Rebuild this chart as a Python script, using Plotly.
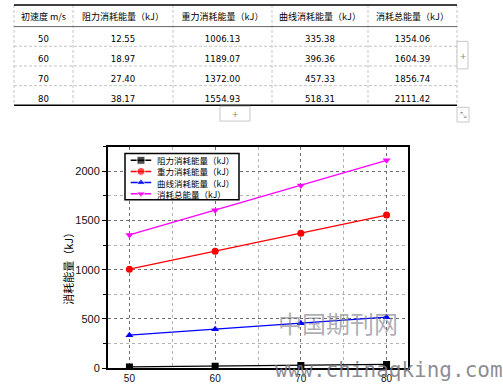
import plotly.graph_objects as go

W, H = 503, 387

# ---------------- data ----------------
speeds = [50, 60, 70, 80]
resist = [12.55, 18.97, 27.40, 38.17]
gravity = [1006.13, 1189.07, 1372.00, 1554.93]
curve = [335.38, 396.36, 457.33, 518.31]
total = [1354.06, 1604.39, 1856.74, 2111.42]

table_headers = ["初速度\u00a0m/s", "阻力消耗能量（kJ）", "重力消耗能量（kJ）", "曲线消耗能量（kJ）", "消耗总能量（kJ）"]
series_names = ["阻力消耗能量（kJ）", "重力消耗能量（kJ）", "曲线消耗能量（kJ）", "消耗总能量（kJ）"]
y_title = "消耗能量（kJ）"
y_ticks = [0, 500, 1000, 1500, 2000]
x_ticks = [50, 60, 70, 80]

# ---------------- styles ----------------
colors = ["#000000", "#ff0000", "#0000ff", "#ff00ff"]
symbols = ["square", "circle", "triangle-up", "triangle-down"]
col_widths = [59, 100, 99, 96, 89]
tbl_left, tbl_top = 14, 5
header_h, row_h = 22, 20


def px(x):
    return x / W


def py(y):
    return 1 - y / H


CJK = "Noto Sans CJK SC"

fig = go.Figure()

# ---------------- table ----------------
tbl_right = tbl_left + sum(col_widths)
tbl_bottom = tbl_top + header_h + row_h * len(speeds)
fig.add_trace(go.Table(
    domain=dict(x=[px(tbl_left), px(tbl_right)], y=[py(tbl_bottom + 1), py(tbl_top)]),
    columnwidth=col_widths,
    header=dict(values=table_headers, height=header_h, align="center",
                line=dict(color="white", width=1), fill=dict(color="white"),
                font=dict(family=CJK, size=9, color="#000000")),
    cells=dict(values=[[str(s) for s in speeds],
                       [f"{v:.2f}" for v in resist],
                       [f"{v:.2f}" for v in gravity],
                       [f"{v:.2f}" for v in curve],
                       [f"{v:.2f}" for v in total]],
               height=row_h, align="center",
               line=dict(color="white", width=1), fill=dict(color="white"),
               font=dict(family="DejaVu Sans Condensed", size=9.5, color="#000000")),
))

# dashed table grid
xs = [tbl_left]
for w in col_widths:
    xs.append(xs[-1] + w)
for x in xs:
    fig.add_shape(type="line", xref="paper", yref="paper", x0=px(x), x1=px(x),
                  y0=py(tbl_top), y1=py(tbl_bottom),
                  line=dict(color="#c4c4c4", width=1, dash="3px,2px"))
for k in range(1, len(speeds)):
    y = tbl_top + header_h + row_h * k
    fig.add_shape(type="line", xref="paper", yref="paper", x0=px(tbl_left), x1=px(tbl_right),
                  y0=py(y), y1=py(y), line=dict(color="#c4c4c4", width=1, dash="3px,2px"))
# table rules
for y, col, w in [(tbl_top, "black", 1.5), (tbl_top + header_h, "#666666", 1), (tbl_bottom, "black", 1.5)]:
    fig.add_shape(type="line", xref="paper", yref="paper", x0=px(tbl_left), x1=px(tbl_right),
                  y0=py(y), y1=py(y), line=dict(color=col, width=w))

# ---------------- chart ----------------
for name, vals, c, s in zip(series_names, [resist, gravity, curve, total], colors, symbols):
    fig.add_trace(go.Scatter(x=speeds, y=vals, name=name, mode="lines+markers",
                             line=dict(color=c, width=1.3),
                             marker=dict(color=c, symbol=s, size=7),
                             showlegend=False, xaxis="x", yaxis="y"))

# custom compact legend in its own hidden axes
for i, (name, c, s) in enumerate(zip(series_names, colors, symbols)):
    fig.add_trace(go.Scatter(x=[0.05, 0.14, 0.23], y=[i, i, i], mode="lines+markers",
                             line=dict(color=c, width=1.5),
                             marker=dict(color=c, symbol=s, size=[0, 8, 0]),
                             showlegend=False, hoverinfo="skip",
                             xaxis="x2", yaxis="y2"))
    fig.add_annotation(x=0.26, y=i, xref="x2", yref="y2", text=name, showarrow=False,
                       xanchor="left", yanchor="middle",
                       font=dict(family=CJK, size=8.5, color="#000000"))

fig.update_layout(
    width=W, height=H,
    margin=dict(l=0, r=0, t=0, b=0),
    paper_bgcolor="white", plot_bgcolor="white",
    showlegend=False,
    xaxis=dict(domain=[px(108), px(408)], anchor="y",
               range=[47.5, 82.5], tickvals=x_ticks,
               showline=True, linecolor="black", linewidth=2, mirror=True,
               ticks="inside", ticklen=4, tickcolor="black",
               showgrid=True, gridcolor="#6e6e6e", griddash="dot", gridwidth=1,
               minor=dict(dtick=5, tick0=45, showgrid=True, gridcolor="#b4b4b4",
                          griddash="dot", ticks=""),
               zeroline=False,
               tickfont=dict(family="Arial", size=10, color="#111111")),
    yaxis=dict(domain=[py(374), py(149)], anchor="x",
               range=[0, 2250], tickvals=y_ticks,
               showline=True, linecolor="black", linewidth=2, mirror=True,
               ticks="outside", ticklen=4, tickcolor="black",
               showgrid=True, gridcolor="#6e6e6e", griddash="dot", gridwidth=1,
               minor=dict(dtick=250, tick0=0, showgrid=True, gridcolor="#b4b4b4",
                          griddash="dot", ticks="outside", ticklen=3, tickcolor="black"),
               zeroline=False,
               tickfont=dict(family="Arial", size=11, color="#111111")),
    xaxis2=dict(domain=[px(125), px(239)], anchor="y2", range=[0, 1],
                visible=False, fixedrange=True),
    yaxis2=dict(domain=[py(203), py(156)], anchor="x2", range=[3.55, -0.6],
                visible=False, fixedrange=True),
)

# legend box
fig.add_shape(type="rect", xref="x2 domain", yref="y2 domain", x0=0, x1=1, y0=0, y1=1,
              line=dict(color="black", width=1.5), fillcolor="rgba(0,0,0,0)", layer="above")

# UI buttons around the table
for x0, y0, x1, y1 in [(457, 42, 468, 70), (220, 108, 250, 123)]:
    fig.add_shape(type="rect", xref="paper", yref="paper", x0=px(x0), x1=px(x1),
                  y0=py(y1), y1=py(y0), line=dict(color="#c8c8c8", width=1),
                  fillcolor="white")
    fig.add_annotation(x=px((x0 + x1) / 2), y=py((y0 + y1) / 2), xref="paper", yref="paper",
                       xanchor="center", yanchor="middle",
                       text="+", showarrow=False, font=dict(size=11, color="#888888"))
fig.add_shape(type="rect", xref="paper", yref="paper", x0=px(457), x1=px(469),
              y0=py(124), y1=py(109), line=dict(color="#c8c8c8", width=1), fillcolor="white")
fig.add_annotation(x=px(463), y=py(116.5), xref="paper", yref="paper", text="⤡",
                   xanchor="center", yanchor="middle",
                   showarrow=False, font=dict(size=8, color="#999999"))

# y-axis title
fig.add_annotation(x=px(68), y=py(270), xref="paper", yref="paper", text=y_title,
                   textangle=-90, showarrow=False, xanchor="center", yanchor="middle",
                   font=dict(family=CJK, size=11, color="#000000"))

# watermarks
fig.add_annotation(x=px(337.5), y=py(328), xref="paper", yref="paper", text="中国期刊网",
                   xanchor="center", yanchor="middle", showarrow=False,
                   font=dict(family=CJK, size=24, color="rgba(120,120,130,0.6)"))
fig.add_annotation(x=px(273), y=py(376), xref="paper", yref="paper", text="www.chinaqking.com",
                   xanchor="left", yanchor="middle", showarrow=False,
                   font=dict(family="DejaVu Sans Mono", size=21, color="rgba(120,120,130,0.85)"))

fig.write_html("out.html", config={"displayModeBar": False},
               post_script="document.body.style.margin='0';document.body.style.overflow='hidden';")
